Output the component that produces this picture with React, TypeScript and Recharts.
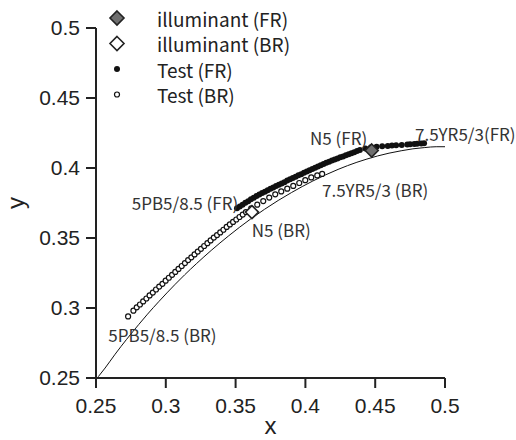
import { ComposedChart, Line, Scatter, XAxis, YAxis, Legend } from "recharts";

// axis ticks
const xTicks = [0.25, 0.3, 0.35, 0.4, 0.45, 0.5];
const yTicks = [0.25, 0.3, 0.35, 0.4, 0.45, 0.5];

// blackbody locus (thin solid line)
const locusX = [0.2516, 0.2565, 0.2637, 0.2719, 0.2807, 0.2869, 0.2952, 0.3064, 0.3135, 0.3221, 0.3325, 0.3451, 0.3608, 0.3805, 0.3901, 0.4053, 0.4234, 0.4369, 0.4441, 0.4517, 0.4599, 0.4686, 0.477, 0.4855, 0.4937, 0.5];
const locusY = [0.2509, 0.2571, 0.267, 0.2776, 0.2883, 0.2956, 0.3048, 0.3166, 0.3237, 0.3318, 0.3411, 0.3516, 0.3636, 0.3768, 0.3825, 0.3907, 0.399, 0.4041, 0.4064, 0.4086, 0.4106, 0.4123, 0.4137, 0.4146, 0.4152, 0.4152];

// Test (FR) - filled dots
const testFrX = [0.351, 0.353, 0.355, 0.357, 0.359, 0.361, 0.363, 0.365, 0.367, 0.369, 0.371, 0.373, 0.375, 0.377, 0.379, 0.381, 0.383, 0.385, 0.387, 0.389, 0.391, 0.393, 0.395, 0.397, 0.399, 0.401, 0.403, 0.405, 0.407, 0.409, 0.411, 0.413, 0.415, 0.417, 0.419, 0.421, 0.423, 0.425, 0.427, 0.429, 0.431, 0.433, 0.435, 0.437, 0.439, 0.443, 0.447, 0.451, 0.455, 0.459, 0.462, 0.465, 0.469, 0.473, 0.475, 0.478, 0.48, 0.483, 0.485];
const testFrY = [0.3712, 0.3725, 0.3737, 0.3751, 0.3762, 0.3776, 0.3788, 0.38, 0.3811, 0.3822, 0.3831, 0.3841, 0.3851, 0.386, 0.3871, 0.388, 0.389, 0.3899, 0.391, 0.3919, 0.3929, 0.3938, 0.3948, 0.3956, 0.3966, 0.3975, 0.3984, 0.3993, 0.4002, 0.4011, 0.402, 0.4029, 0.4037, 0.4045, 0.4053, 0.4061, 0.4068, 0.4076, 0.4083, 0.4091, 0.4098, 0.4106, 0.4113, 0.4121, 0.4129, 0.414, 0.4148, 0.4152, 0.4156, 0.4158, 0.416, 0.4163, 0.4165, 0.4168, 0.417, 0.4172, 0.4173, 0.4175, 0.4176];

// Test (BR) - open circles
const testBrX = [0.273, 0.2768, 0.2792, 0.2815, 0.2838, 0.2861, 0.2884, 0.2907, 0.293, 0.2953, 0.2976, 0.2999, 0.3022, 0.3045, 0.3068, 0.3091, 0.3114, 0.3137, 0.316, 0.3183, 0.3206, 0.3229, 0.3252, 0.3275, 0.3298, 0.3321, 0.3344, 0.3367, 0.339, 0.3413, 0.3436, 0.3459, 0.3482, 0.3505, 0.3528, 0.3551, 0.3574, 0.3612, 0.3655, 0.3698, 0.3741, 0.3784, 0.3827, 0.387, 0.3913, 0.3956, 0.3999, 0.4042, 0.4085, 0.412];
const testBrY = [0.294, 0.2981, 0.3005, 0.3025, 0.3047, 0.3068, 0.309, 0.311, 0.3132, 0.3153, 0.3173, 0.3195, 0.3216, 0.3237, 0.3258, 0.3279, 0.33, 0.3321, 0.3342, 0.3362, 0.3383, 0.3403, 0.3423, 0.3443, 0.3463, 0.3483, 0.3503, 0.3521, 0.354, 0.3559, 0.3579, 0.3597, 0.3615, 0.3632, 0.365, 0.3667, 0.3685, 0.3712, 0.3738, 0.3764, 0.3789, 0.3812, 0.3833, 0.3852, 0.3872, 0.3893, 0.3913, 0.3933, 0.3947, 0.3958];

// illuminants
const illumFr = { x: 0.4475, y: 0.4125 };
const illumBr = { x: 0.3617, y: 0.3685 };

// point labels
const annLabels = ["N5 (FR)", "7.5YR5/3(FR)", "7.5YR5/3 (BR)", "5PB5/8.5 (FR)", "N5 (BR)", "5PB5/8.5 (BR)"];
const annX = [0.4033, 0.4785, 0.4119, 0.2756, 0.3616, 0.2588];
const annY = [0.4221, 0.425, 0.3843, 0.3757, 0.3564, 0.2814];

const legendLabels = ["illuminant (FR)", "illuminant (BR)", "Test (FR)", "Test (BR)"];
const legendKinds = ["diamondFill", "diamondOpen", "dotFill", "dotOpen"];

const zip = (xs: number[], ys: number[]) => xs.map((x, i) => ({ x, y: ys[i] }));

const locusData = zip(locusX, locusY);
const frData = zip(testFrX, testFrY);
const brData = zip(testBrX, testBrY);
const annData = annLabels.map((label, i) => ({ x: annX[i], y: annY[i], label }));

const INK = "#222";
const TEXT_FONT = "'Noto Sans CJK JP', 'Noto Sans', sans-serif";
const AXIS_FONT = "'Liberation Sans', Arial, sans-serif";

function Diamond({ cx, cy, filled, r = 6.5 }: { cx: number; cy: number; filled: boolean; r?: number }) {
  const pts = `${cx},${cy - r} ${cx + r},${cy} ${cx},${cy + r} ${cx - r},${cy}`;
  return <polygon points={pts} fill={filled ? "#6f6f6f" : "#fff"} stroke={INK} strokeWidth={1.6} />;
}

function Marker({ kind, cx, cy }: { kind: string; cx: number; cy: number }) {
  if (kind === "diamondFill") return <Diamond cx={cx} cy={cy} filled r={7} />;
  if (kind === "diamondOpen") return <Diamond cx={cx} cy={cy} filled={false} r={7} />;
  if (kind === "dotFill") return <circle cx={cx} cy={cy} r={3} fill="#111" />;
  return <circle cx={cx} cy={cy} r={2.5} fill="#fff" stroke="#111" strokeWidth={1.2} />;
}

function LegendBox() {
  return (
    <svg width={200} height={110}>
      {legendLabels.map((label, i) => {
        const cy = 18 + i * 25.5;
        return (
          <g key={label}>
            <Marker kind={legendKinds[i]} cx={17} cy={cy} />
            <text x={57} y={cy} dominantBaseline="central" fontSize={19} fontFamily={TEXT_FONT} fill={INK}>
              {label}
            </text>
          </g>
        );
      })}
    </svg>
  );
}

export default function App() {
  return (
    <div style={{ position: "absolute", left: 0, top: 0, background: "#fff" }}>
      <ComposedChart width={516} height={440} margin={{ top: 28, right: 71, bottom: 12, left: 0 }}>
        <XAxis
          type="number"
          dataKey="x"
          domain={[0.25, 0.5]}
          ticks={xTicks}
          height={50}
          tickSize={10}
          tickMargin={10}
          axisLine={{ stroke: INK, strokeWidth: 2 }}
          tickLine={{ stroke: INK, strokeWidth: 2 }}
          tick={{ fontSize: 21, fill: INK, fontFamily: AXIS_FONT }}
          label={{
            content: ({ viewBox }: any) => (
              <text x={viewBox.x + viewBox.width / 2} y={434} textAnchor="middle" fontSize={24} fontFamily={AXIS_FONT} fill={INK}>
                x
              </text>
            ),
          }}
        />
        <YAxis
          type="number"
          dataKey="y"
          domain={[0.25, 0.5]}
          ticks={yTicks}
          width={96}
          tickSize={10}
          tickMargin={6}
          axisLine={{ stroke: INK, strokeWidth: 2 }}
          tickLine={{ stroke: INK, strokeWidth: 2 }}
          tick={{ fontSize: 21, fill: INK, fontFamily: AXIS_FONT }}
          label={{
            content: ({ viewBox }: any) => {
              const cy = viewBox.y + viewBox.height / 2;
              return (
                <text x={24} y={cy} transform={`rotate(-90 24 ${cy})`} textAnchor="middle" fontSize={24} fontFamily={AXIS_FONT} fill={INK}>
                  y
                </text>
              );
            },
          }}
        />
        <Legend
          layout="vertical"
          align="center"
          verticalAlign="middle"
          wrapperStyle={{ top: 0, left: 100, width: 200 }}
          content={() => <LegendBox />}
        />
        <Line data={locusData} dataKey="y" type="monotone" stroke="#111" strokeWidth={1} dot={false} isAnimationActive={false} />
        <Scatter data={brData} dataKey="y" isAnimationActive={false} shape={(p: any) => <Marker kind="dotOpen" cx={p.cx} cy={p.cy} />} />
        <Scatter data={frData} dataKey="y" isAnimationActive={false} shape={(p: any) => <Marker kind="dotFill" cx={p.cx} cy={p.cy} />} />
        <Scatter data={[illumBr]} dataKey="y" isAnimationActive={false} shape={(p: any) => <Diamond cx={p.cx} cy={p.cy} filled={false} />} />
        <Scatter data={[illumFr]} dataKey="y" isAnimationActive={false} shape={(p: any) => <Diamond cx={p.cx} cy={p.cy} filled />} />
        <Scatter
          data={annData}
          dataKey="y"
          isAnimationActive={false}
          shape={(p: any) => (
            <text x={p.cx} y={p.cy} dominantBaseline="central" fontSize={17} fontFamily={TEXT_FONT} fill="#333">
              {p.payload.label}
            </text>
          )}
        />
      </ComposedChart>
    </div>
  );
}
